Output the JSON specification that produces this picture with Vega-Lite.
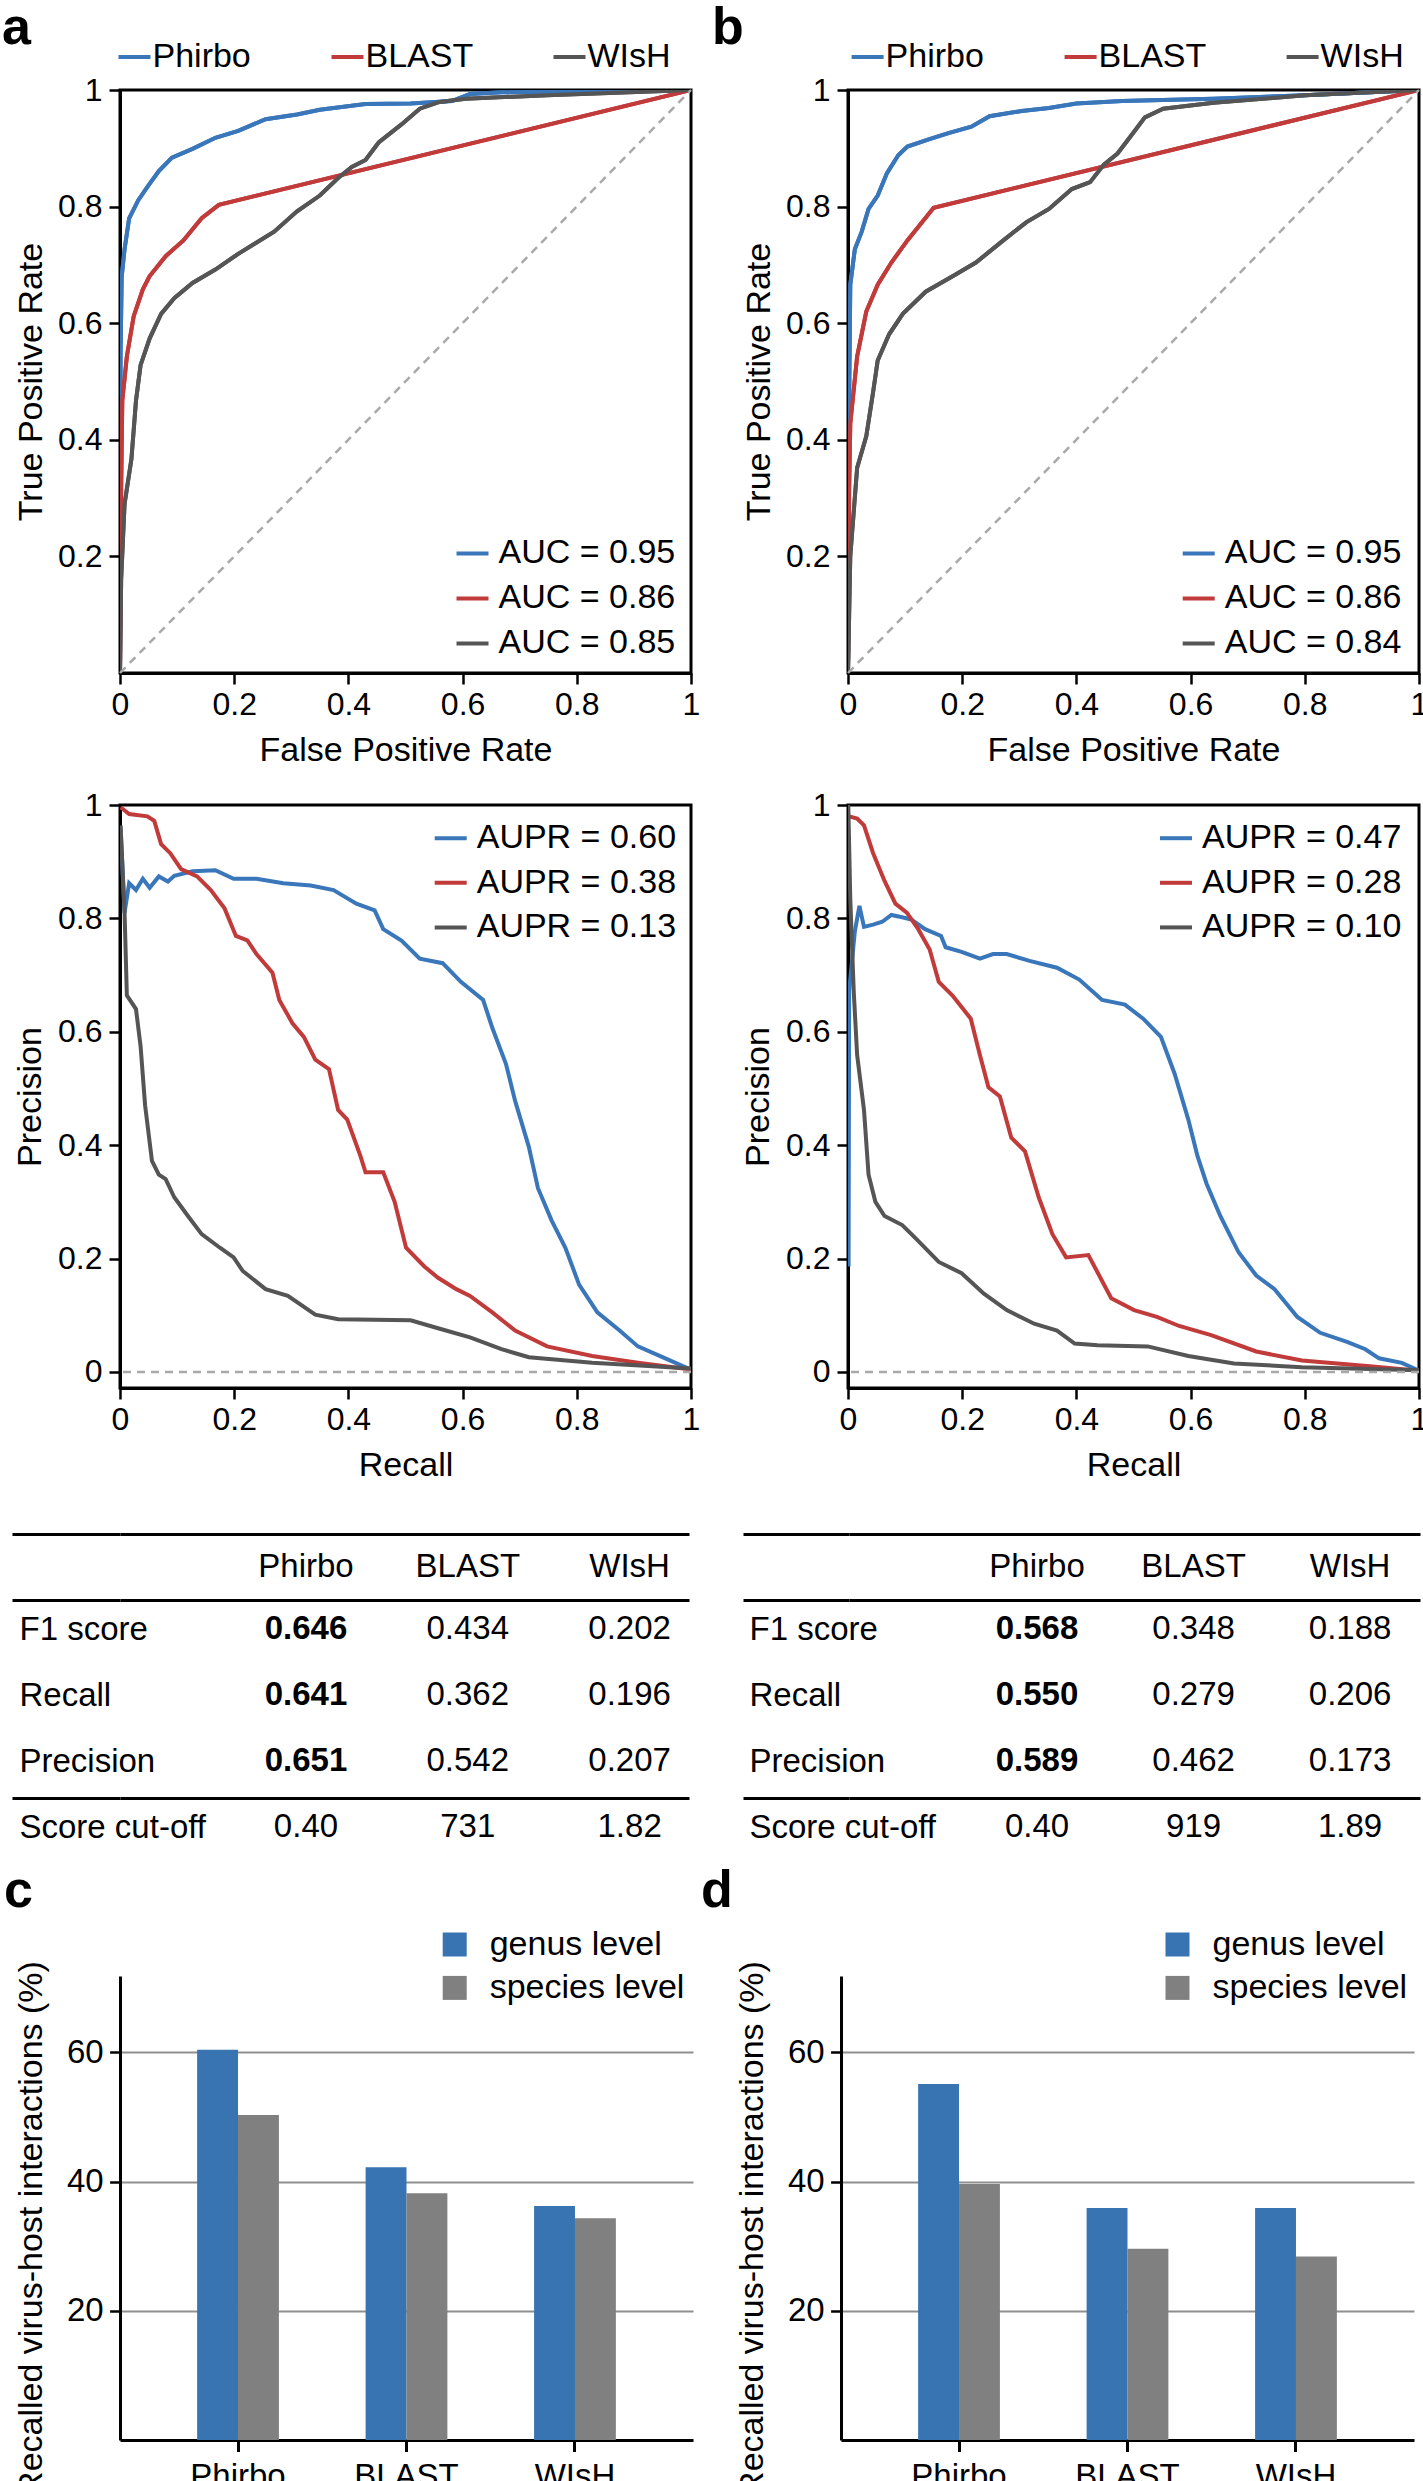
{
"$schema": "https://vega.github.io/schema/vega-lite/v6.json",
"padding": 0,
"background": "white",
"spacing": 0,
"bounds": "full",
"resolve": {"scale": {"color": "independent", "stroke": "independent"}},
"config": {
  "font": "Liberation Sans",
  "view": {"stroke": null},
  "axis": {"labelFont": "Liberation Sans", "titleFont": "Liberation Sans", "labelColor": "black", "titleColor": "black", "titleFontWeight": "normal", "domainColor": "black", "tickColor": "black", "domainWidth": 3, "tickWidth": 2.5, "grid": false, "labelFontSize": 32, "titleFontSize": 34, "labelFlush": false},
  "legend": {"labelFont": "Liberation Sans", "labelColor": "black", "labelFontSize": 34, "padding": 0, "labelLimit": 0},
  "title": {"font": "Liberation Sans", "color": "black"},
  "text": {"font": "Liberation Sans"}
},
"datasets": {
  "rocA": [
    {"m":"Phirbo","x":0,"y":0},{"m":"Phirbo","x":0.001,"y":0.55},{"m":"Phirbo","x":0.003,"y":0.68},{"m":"Phirbo","x":0.008,"y":0.727},{"m":"Phirbo","x":0.016,"y":0.78},{"m":"Phirbo","x":0.032,"y":0.811},{"m":"Phirbo","x":0.048,"y":0.834},{"m":"Phirbo","x":0.068,"y":0.861},{"m":"Phirbo","x":0.091,"y":0.884},{"m":"Phirbo","x":0.127,"y":0.899},{"m":"Phirbo","x":0.167,"y":0.918},{"m":"Phirbo","x":0.207,"y":0.93},{"m":"Phirbo","x":0.255,"y":0.95},{"m":"Phirbo","x":0.31,"y":0.958},{"m":"Phirbo","x":0.35,"y":0.966},{"m":"Phirbo","x":0.43,"y":0.976},{"m":"Phirbo","x":0.509,"y":0.977},{"m":"Phirbo","x":0.581,"y":0.981},{"m":"Phirbo","x":0.613,"y":0.993},{"m":"Phirbo","x":0.668,"y":0.996},{"m":"Phirbo","x":0.8,"y":0.998},{"m":"Phirbo","x":1,"y":1},
    {"m":"BLAST","x":0,"y":0},{"m":"BLAST","x":0.002,"y":0.314},{"m":"BLAST","x":0.004,"y":0.467},{"m":"BLAST","x":0.012,"y":0.543},{"m":"BLAST","x":0.024,"y":0.612},{"m":"BLAST","x":0.04,"y":0.658},{"m":"BLAST","x":0.052,"y":0.681},{"m":"BLAST","x":0.08,"y":0.715},{"m":"BLAST","x":0.111,"y":0.742},{"m":"BLAST","x":0.143,"y":0.78},{"m":"BLAST","x":0.173,"y":0.803},{"m":"BLAST","x":1,"y":1},
    {"m":"WIsH","x":0,"y":0},{"m":"WIsH","x":0.002,"y":0.16},{"m":"WIsH","x":0.008,"y":0.29},{"m":"WIsH","x":0.02,"y":0.367},{"m":"WIsH","x":0.028,"y":0.467},{"m":"WIsH","x":0.036,"y":0.528},{"m":"WIsH","x":0.052,"y":0.574},{"m":"WIsH","x":0.072,"y":0.616},{"m":"WIsH","x":0.095,"y":0.643},{"m":"WIsH","x":0.127,"y":0.669},{"m":"WIsH","x":0.167,"y":0.692},{"m":"WIsH","x":0.207,"y":0.719},{"m":"WIsH","x":0.27,"y":0.757},{"m":"WIsH","x":0.31,"y":0.792},{"m":"WIsH","x":0.35,"y":0.819},{"m":"WIsH","x":0.382,"y":0.849},{"m":"WIsH","x":0.406,"y":0.868},{"m":"WIsH","x":0.43,"y":0.88},{"m":"WIsH","x":0.453,"y":0.91},{"m":"WIsH","x":0.493,"y":0.941},{"m":"WIsH","x":0.525,"y":0.968},{"m":"WIsH","x":0.557,"y":0.979},{"m":"WIsH","x":0.605,"y":0.985},{"m":"WIsH","x":0.748,"y":0.991},{"m":"WIsH","x":1,"y":1}
  ],
  "rocB": [
    {"m":"Phirbo","x":0,"y":0},{"m":"Phirbo","x":0.002,"y":0.467},{"m":"Phirbo","x":0.004,"y":0.666},{"m":"Phirbo","x":0.012,"y":0.727},{"m":"Phirbo","x":0.024,"y":0.757},{"m":"Phirbo","x":0.036,"y":0.796},{"m":"Phirbo","x":0.052,"y":0.819},{"m":"Phirbo","x":0.068,"y":0.857},{"m":"Phirbo","x":0.088,"y":0.888},{"m":"Phirbo","x":0.104,"y":0.903},{"m":"Phirbo","x":0.144,"y":0.916},{"m":"Phirbo","x":0.176,"y":0.926},{"m":"Phirbo","x":0.216,"y":0.937},{"m":"Phirbo","x":0.248,"y":0.955},{"m":"Phirbo","x":0.304,"y":0.964},{"m":"Phirbo","x":0.352,"y":0.969},{"m":"Phirbo","x":0.4,"y":0.977},{"m":"Phirbo","x":0.48,"y":0.981},{"m":"Phirbo","x":0.64,"y":0.985},{"m":"Phirbo","x":0.8,"y":0.991},{"m":"Phirbo","x":1,"y":1},
    {"m":"BLAST","x":0,"y":0},{"m":"BLAST","x":0.002,"y":0.314},{"m":"BLAST","x":0.004,"y":0.428},{"m":"BLAST","x":0.016,"y":0.543},{"m":"BLAST","x":0.032,"y":0.62},{"m":"BLAST","x":0.052,"y":0.666},{"m":"BLAST","x":0.076,"y":0.704},{"m":"BLAST","x":0.104,"y":0.742},{"m":"BLAST","x":0.15,"y":0.798},{"m":"BLAST","x":1,"y":1},
    {"m":"WIsH","x":0,"y":0},{"m":"WIsH","x":0.004,"y":0.2},{"m":"WIsH","x":0.016,"y":0.352},{"m":"WIsH","x":0.032,"y":0.406},{"m":"WIsH","x":0.044,"y":0.482},{"m":"WIsH","x":0.052,"y":0.536},{"m":"WIsH","x":0.072,"y":0.581},{"m":"WIsH","x":0.096,"y":0.616},{"m":"WIsH","x":0.136,"y":0.654},{"m":"WIsH","x":0.184,"y":0.681},{"m":"WIsH","x":0.224,"y":0.704},{"m":"WIsH","x":0.272,"y":0.742},{"m":"WIsH","x":0.312,"y":0.773},{"m":"WIsH","x":0.352,"y":0.796},{"m":"WIsH","x":0.392,"y":0.83},{"m":"WIsH","x":0.424,"y":0.842},{"m":"WIsH","x":0.448,"y":0.872},{"m":"WIsH","x":0.472,"y":0.891},{"m":"WIsH","x":0.496,"y":0.922},{"m":"WIsH","x":0.52,"y":0.953},{"m":"WIsH","x":0.552,"y":0.968},{"m":"WIsH","x":0.64,"y":0.978},{"m":"WIsH","x":0.8,"y":0.991},{"m":"WIsH","x":1,"y":1}
  ],
  "prA": [
    {"m":"Phirbo","x":0.001,"y":0.96},{"m":"Phirbo","x":0.008,"y":0.81},{"m":"Phirbo","x":0.016,"y":0.862},{"m":"Phirbo","x":0.028,"y":0.85},{"m":"Phirbo","x":0.04,"y":0.87},{"m":"Phirbo","x":0.052,"y":0.854},{"m":"Phirbo","x":0.068,"y":0.874},{"m":"Phirbo","x":0.084,"y":0.865},{"m":"Phirbo","x":0.095,"y":0.875},{"m":"Phirbo","x":0.127,"y":0.883},{"m":"Phirbo","x":0.167,"y":0.885},{"m":"Phirbo","x":0.199,"y":0.87},{"m":"Phirbo","x":0.239,"y":0.87},{"m":"Phirbo","x":0.286,"y":0.862},{"m":"Phirbo","x":0.334,"y":0.858},{"m":"Phirbo","x":0.374,"y":0.85},{"m":"Phirbo","x":0.414,"y":0.826},{"m":"Phirbo","x":0.446,"y":0.814},{"m":"Phirbo","x":0.461,"y":0.781},{"m":"Phirbo","x":0.493,"y":0.761},{"m":"Phirbo","x":0.525,"y":0.729},{"m":"Phirbo","x":0.565,"y":0.721},{"m":"Phirbo","x":0.597,"y":0.688},{"m":"Phirbo","x":0.636,"y":0.656},{"m":"Phirbo","x":0.652,"y":0.607},{"m":"Phirbo","x":0.676,"y":0.543},{"m":"Phirbo","x":0.692,"y":0.478},{"m":"Phirbo","x":0.716,"y":0.397},{"m":"Phirbo","x":0.732,"y":0.324},{"m":"Phirbo","x":0.756,"y":0.267},{"m":"Phirbo","x":0.78,"y":0.219},{"m":"Phirbo","x":0.804,"y":0.154},{"m":"Phirbo","x":0.836,"y":0.105},{"m":"Phirbo","x":0.875,"y":0.073},{"m":"Phirbo","x":0.907,"y":0.045},{"m":"Phirbo","x":0.955,"y":0.024},{"m":"Phirbo","x":1,"y":0.004},
    {"m":"BLAST","x":0.001,"y":0.996},{"m":"BLAST","x":0.016,"y":0.984},{"m":"BLAST","x":0.048,"y":0.98},{"m":"BLAST","x":0.06,"y":0.972},{"m":"BLAST","x":0.072,"y":0.931},{"m":"BLAST","x":0.088,"y":0.915},{"m":"BLAST","x":0.107,"y":0.887},{"m":"BLAST","x":0.135,"y":0.874},{"m":"BLAST","x":0.159,"y":0.85},{"m":"BLAST","x":0.183,"y":0.818},{"m":"BLAST","x":0.203,"y":0.769},{"m":"BLAST","x":0.223,"y":0.761},{"m":"BLAST","x":0.239,"y":0.737},{"m":"BLAST","x":0.267,"y":0.704},{"m":"BLAST","x":0.279,"y":0.656},{"m":"BLAST","x":0.302,"y":0.615},{"m":"BLAST","x":0.322,"y":0.591},{"m":"BLAST","x":0.342,"y":0.551},{"m":"BLAST","x":0.366,"y":0.534},{"m":"BLAST","x":0.382,"y":0.462},{"m":"BLAST","x":0.398,"y":0.445},{"m":"BLAST","x":0.421,"y":0.381},{"m":"BLAST","x":0.43,"y":0.352},{"m":"BLAST","x":0.461,"y":0.352},{"m":"BLAST","x":0.481,"y":0.3},{"m":"BLAST","x":0.501,"y":0.219},{"m":"BLAST","x":0.533,"y":0.186},{"m":"BLAST","x":0.557,"y":0.166},{"m":"BLAST","x":0.589,"y":0.146},{"m":"BLAST","x":0.613,"y":0.134},{"m":"BLAST","x":0.652,"y":0.105},{"m":"BLAST","x":0.692,"y":0.073},{"m":"BLAST","x":0.748,"y":0.045},{"m":"BLAST","x":0.827,"y":0.028},{"m":"BLAST","x":0.907,"y":0.016},{"m":"BLAST","x":1,"y":0.004},
    {"m":"WIsH","x":0.001,"y":0.964},{"m":"WIsH","x":0.008,"y":0.81},{"m":"WIsH","x":0.012,"y":0.664},{"m":"WIsH","x":0.028,"y":0.64},{"m":"WIsH","x":0.036,"y":0.575},{"m":"WIsH","x":0.044,"y":0.47},{"m":"WIsH","x":0.056,"y":0.372},{"m":"WIsH","x":0.068,"y":0.348},{"m":"WIsH","x":0.08,"y":0.34},{"m":"WIsH","x":0.095,"y":0.308},{"m":"WIsH","x":0.119,"y":0.275},{"m":"WIsH","x":0.143,"y":0.243},{"m":"WIsH","x":0.175,"y":0.219},{"m":"WIsH","x":0.199,"y":0.202},{"m":"WIsH","x":0.215,"y":0.178},{"m":"WIsH","x":0.255,"y":0.146},{"m":"WIsH","x":0.294,"y":0.134},{"m":"WIsH","x":0.342,"y":0.101},{"m":"WIsH","x":0.382,"y":0.093},{"m":"WIsH","x":0.509,"y":0.091},{"m":"WIsH","x":0.557,"y":0.077},{"m":"WIsH","x":0.613,"y":0.061},{"m":"WIsH","x":0.668,"y":0.04},{"m":"WIsH","x":0.716,"y":0.026},{"m":"WIsH","x":0.827,"y":0.016},{"m":"WIsH","x":1,"y":0.006}
  ],
  "prB": [
    {"m":"Phirbo","x":0.001,"y":0.186},{"m":"Phirbo","x":0.002,"y":0.672},{"m":"Phirbo","x":0.012,"y":0.777},{"m":"Phirbo","x":0.02,"y":0.822},{"m":"Phirbo","x":0.028,"y":0.785},{"m":"Phirbo","x":0.044,"y":0.789},{"m":"Phirbo","x":0.06,"y":0.794},{"m":"Phirbo","x":0.076,"y":0.806},{"m":"Phirbo","x":0.095,"y":0.802},{"m":"Phirbo","x":0.111,"y":0.798},{"m":"Phirbo","x":0.135,"y":0.781},{"m":"Phirbo","x":0.163,"y":0.769},{"m":"Phirbo","x":0.171,"y":0.749},{"m":"Phirbo","x":0.199,"y":0.741},{"m":"Phirbo","x":0.231,"y":0.729},{"m":"Phirbo","x":0.254,"y":0.737},{"m":"Phirbo","x":0.278,"y":0.737},{"m":"Phirbo","x":0.318,"y":0.725},{"m":"Phirbo","x":0.366,"y":0.713},{"m":"Phirbo","x":0.405,"y":0.692},{"m":"Phirbo","x":0.445,"y":0.656},{"m":"Phirbo","x":0.485,"y":0.648},{"m":"Phirbo","x":0.517,"y":0.623},{"m":"Phirbo","x":0.548,"y":0.591},{"m":"Phirbo","x":0.572,"y":0.526},{"m":"Phirbo","x":0.596,"y":0.445},{"m":"Phirbo","x":0.612,"y":0.381},{"m":"Phirbo","x":0.628,"y":0.332},{"m":"Phirbo","x":0.652,"y":0.275},{"m":"Phirbo","x":0.684,"y":0.211},{"m":"Phirbo","x":0.715,"y":0.17},{"m":"Phirbo","x":0.747,"y":0.146},{"m":"Phirbo","x":0.787,"y":0.097},{"m":"Phirbo","x":0.827,"y":0.069},{"m":"Phirbo","x":0.874,"y":0.053},{"m":"Phirbo","x":0.906,"y":0.04},{"m":"Phirbo","x":0.93,"y":0.024},{"m":"Phirbo","x":0.97,"y":0.016},{"m":"Phirbo","x":1,"y":0.002},
    {"m":"BLAST","x":0.002,"y":0.98},{"m":"BLAST","x":0.016,"y":0.976},{"m":"BLAST","x":0.028,"y":0.964},{"m":"BLAST","x":0.044,"y":0.915},{"m":"BLAST","x":0.064,"y":0.866},{"m":"BLAST","x":0.083,"y":0.826},{"m":"BLAST","x":0.103,"y":0.81},{"m":"BLAST","x":0.123,"y":0.781},{"m":"BLAST","x":0.143,"y":0.745},{"m":"BLAST","x":0.159,"y":0.688},{"m":"BLAST","x":0.183,"y":0.664},{"m":"BLAST","x":0.215,"y":0.623},{"m":"BLAST","x":0.231,"y":0.559},{"m":"BLAST","x":0.246,"y":0.502},{"m":"BLAST","x":0.266,"y":0.486},{"m":"BLAST","x":0.286,"y":0.413},{"m":"BLAST","x":0.31,"y":0.389},{"m":"BLAST","x":0.334,"y":0.308},{"m":"BLAST","x":0.358,"y":0.243},{"m":"BLAST","x":0.382,"y":0.202},{"m":"BLAST","x":0.421,"y":0.206},{"m":"BLAST","x":0.461,"y":0.13},{"m":"BLAST","x":0.501,"y":0.109},{"m":"BLAST","x":0.541,"y":0.097},{"m":"BLAST","x":0.58,"y":0.081},{"m":"BLAST","x":0.636,"y":0.065},{"m":"BLAST","x":0.715,"y":0.036},{"m":"BLAST","x":0.795,"y":0.02},{"m":"BLAST","x":0.914,"y":0.01},{"m":"BLAST","x":1,"y":0.002},
    {"m":"WIsH","x":0.0005,"y":1},{"m":"WIsH","x":0.004,"y":0.834},{"m":"WIsH","x":0.01,"y":0.672},{"m":"WIsH","x":0.016,"y":0.559},{"m":"WIsH","x":0.028,"y":0.462},{"m":"WIsH","x":0.036,"y":0.348},{"m":"WIsH","x":0.048,"y":0.3},{"m":"WIsH","x":0.064,"y":0.275},{"m":"WIsH","x":0.095,"y":0.259},{"m":"WIsH","x":0.119,"y":0.235},{"m":"WIsH","x":0.159,"y":0.194},{"m":"WIsH","x":0.199,"y":0.174},{"m":"WIsH","x":0.238,"y":0.138},{"m":"WIsH","x":0.278,"y":0.109},{"m":"WIsH","x":0.326,"y":0.085},{"m":"WIsH","x":0.366,"y":0.073},{"m":"WIsH","x":0.397,"y":0.05},{"m":"WIsH","x":0.437,"y":0.047},{"m":"WIsH","x":0.525,"y":0.045},{"m":"WIsH","x":0.596,"y":0.028},{"m":"WIsH","x":0.676,"y":0.015},{"m":"WIsH","x":0.795,"y":0.008},{"m":"WIsH","x":1,"y":0.003}
  ],
  "aucA": [{"m":"Phirbo","lab":"AUC = 0.95"},{"m":"BLAST","lab":"AUC = 0.86"},{"m":"WIsH","lab":"AUC = 0.85"}],
  "aucB": [{"m":"Phirbo","lab":"AUC = 0.95"},{"m":"BLAST","lab":"AUC = 0.86"},{"m":"WIsH","lab":"AUC = 0.84"}],
  "auprA": [{"m":"Phirbo","lab":"AUPR = 0.60"},{"m":"BLAST","lab":"AUPR = 0.38"},{"m":"WIsH","lab":"AUPR = 0.13"}],
  "auprB": [{"m":"Phirbo","lab":"AUPR = 0.47"},{"m":"BLAST","lab":"AUPR = 0.28"},{"m":"WIsH","lab":"AUPR = 0.10"}],
  "tblA": [
    {"row":"header","col":"Phirbo","v":"Phirbo"},{"row":"header","col":"BLAST","v":"BLAST"},{"row":"header","col":"WIsH","v":"WIsH"},
    {"row":"F1 score","col":"Phirbo","v":"0.646"},{"row":"F1 score","col":"BLAST","v":"0.434"},{"row":"F1 score","col":"WIsH","v":"0.202"},
    {"row":"Recall","col":"Phirbo","v":"0.641"},{"row":"Recall","col":"BLAST","v":"0.362"},{"row":"Recall","col":"WIsH","v":"0.196"},
    {"row":"Precision","col":"Phirbo","v":"0.651"},{"row":"Precision","col":"BLAST","v":"0.542"},{"row":"Precision","col":"WIsH","v":"0.207"},
    {"row":"Score cut-off","col":"Phirbo","v":"0.40"},{"row":"Score cut-off","col":"BLAST","v":"731"},{"row":"Score cut-off","col":"WIsH","v":"1.82"}
  ],
  "tblB": [
    {"row":"header","col":"Phirbo","v":"Phirbo"},{"row":"header","col":"BLAST","v":"BLAST"},{"row":"header","col":"WIsH","v":"WIsH"},
    {"row":"F1 score","col":"Phirbo","v":"0.568"},{"row":"F1 score","col":"BLAST","v":"0.348"},{"row":"F1 score","col":"WIsH","v":"0.188"},
    {"row":"Recall","col":"Phirbo","v":"0.550"},{"row":"Recall","col":"BLAST","v":"0.279"},{"row":"Recall","col":"WIsH","v":"0.206"},
    {"row":"Precision","col":"Phirbo","v":"0.589"},{"row":"Precision","col":"BLAST","v":"0.462"},{"row":"Precision","col":"WIsH","v":"0.173"},
    {"row":"Score cut-off","col":"Phirbo","v":"0.40"},{"row":"Score cut-off","col":"BLAST","v":"919"},{"row":"Score cut-off","col":"WIsH","v":"1.89"}
  ],
  "barsC": [
    {"method":"Phirbo","level":"genus level","value":60.4},{"method":"Phirbo","level":"species level","value":50.3},
    {"method":"BLAST","level":"genus level","value":42.2},{"method":"BLAST","level":"species level","value":38.2},
    {"method":"WIsH","level":"genus level","value":36.2},{"method":"WIsH","level":"species level","value":34.3}
  ],
  "barsD": [
    {"method":"Phirbo","level":"genus level","value":55.1},{"method":"Phirbo","level":"species level","value":39.6},
    {"method":"BLAST","level":"genus level","value":35.9},{"method":"BLAST","level":"species level","value":29.6},
    {"method":"WIsH","level":"genus level","value":35.9},{"method":"WIsH","level":"species level","value":28.4}
  ]
},
"vconcat": [
 {
  "hconcat": [
  {
    "width": 571, "height": 583,
    "title": {"text": "a", "fontSize": 52, "fontWeight": "bold", "anchor": "start", "frame": "group", "dx": -118, "offset": -16.2},
    "view": {"stroke": "black", "strokeWidth": 3},
    "layer": [
      {"data": {"name": "rocA"}, "mark": {"type": "line", "strokeWidth": 4, "clip": true},
       "encoding": {
         "x": {"field": "x", "type": "quantitative", "scale": {"domain": [0, 1], "nice": false, "zero": false}, "axis": {"values": [0, 0.2, 0.4, 0.6, 0.8, 1], "format": ".1~f", "title": "False Positive Rate", "tickSize": 11, "labelPadding": 5, "titlePadding": 13}},
         "y": {"field": "y", "type": "quantitative", "scale": {"domain": [0, 1], "nice": false, "zero": false}, "axis": {"values": [0.2, 0.4, 0.6, 0.8, 1], "format": ".1~f", "title": "True Positive Rate", "tickSize": 11, "labelPadding": 7, "titlePadding": 9}},
         "color": {"field": "m", "type": "nominal", "scale": {"domain": ["Phirbo", "BLAST", "WIsH"], "range": ["#3a76ba", "#c13b3b", "#555555"]},
           "legend": {"title": null, "orient": "none", "direction": "horizontal", "legendX": -3.5, "legendY": -51, "symbolType": "stroke", "symbolSize": 1024, "symbolStrokeWidth": 4, "labelOffset": 0, "columnPadding": 72}}
       }},
      {"data": {"name": "rocA"}, "transform": [{"lookup": "m", "from": {"data": {"name": "aucA"}, "key": "m", "fields": ["lab"]}}],
       "mark": {"type": "line", "strokeWidth": 4, "clip": true},
       "encoding": {
         "x": {"field": "x", "type": "quantitative"},
         "y": {"field": "y", "type": "quantitative"},
         "stroke": {"field": "lab", "type": "nominal", "scale": {"domain": ["AUC = 0.95", "AUC = 0.86", "AUC = 0.85"], "range": ["#3a76ba", "#c13b3b", "#555555"]},
           "legend": {"title": null, "orient": "none", "legendX": 334.5, "legendY": 445.4, "symbolType": "stroke", "symbolSize": 1024, "symbolStrokeWidth": 4, "labelOffset": 8, "rowPadding": 10}}
       }},
      {"data": {"values": [{}]}, "mark": {"type": "rule", "strokeDash": [8, 6], "color": "#a9a9a9", "strokeWidth": 2.5},
       "encoding": {"x": {"datum": 0, "type": "quantitative"}, "y": {"datum": 0, "type": "quantitative"}, "x2": {"datum": 1}, "y2": {"datum": 1}}}
    ]
  },
  {
    "width": 571, "height": 583,
    "title": {"text": "b", "fontSize": 52, "fontWeight": "bold", "anchor": "start", "frame": "group", "dx": -136, "offset": -16.2},
    "view": {"stroke": "black", "strokeWidth": 3},
    "layer": [
      {"data": {"name": "rocB"}, "mark": {"type": "line", "strokeWidth": 4, "clip": true},
       "encoding": {
         "x": {"field": "x", "type": "quantitative", "scale": {"domain": [0, 1], "nice": false, "zero": false}, "axis": {"values": [0, 0.2, 0.4, 0.6, 0.8, 1], "format": ".1~f", "title": "False Positive Rate", "tickSize": 11, "labelPadding": 5, "titlePadding": 13}},
         "y": {"field": "y", "type": "quantitative", "scale": {"domain": [0, 1], "nice": false, "zero": false}, "axis": {"values": [0.2, 0.4, 0.6, 0.8, 1], "format": ".1~f", "title": "True Positive Rate", "tickSize": 11, "labelPadding": 7, "titlePadding": 9}},
         "color": {"field": "m", "type": "nominal", "scale": {"domain": ["Phirbo", "BLAST", "WIsH"], "range": ["#3a76ba", "#c13b3b", "#555555"]},
           "legend": {"title": null, "orient": "none", "direction": "horizontal", "legendX": 1.6, "legendY": -51, "symbolType": "stroke", "symbolSize": 1024, "symbolStrokeWidth": 4, "labelOffset": 0, "columnPadding": 72}}
       }},
      {"data": {"name": "rocB"}, "transform": [{"lookup": "m", "from": {"data": {"name": "aucB"}, "key": "m", "fields": ["lab"]}}],
       "mark": {"type": "line", "strokeWidth": 4, "clip": true},
       "encoding": {
         "x": {"field": "x", "type": "quantitative"},
         "y": {"field": "y", "type": "quantitative"},
         "stroke": {"field": "lab", "type": "nominal", "scale": {"domain": ["AUC = 0.95", "AUC = 0.86", "AUC = 0.84"], "range": ["#3a76ba", "#c13b3b", "#555555"]},
           "legend": {"title": null, "orient": "none", "legendX": 332.7, "legendY": 445.4, "symbolType": "stroke", "symbolSize": 1024, "symbolStrokeWidth": 4, "labelOffset": 8, "rowPadding": 10}}
       }},
      {"data": {"values": [{}]}, "mark": {"type": "rule", "strokeDash": [8, 6], "color": "#a9a9a9", "strokeWidth": 2.5},
       "encoding": {"x": {"datum": 0, "type": "quantitative"}, "y": {"datum": 0, "type": "quantitative"}, "x2": {"datum": 1}, "y2": {"datum": 1}}}
    ]
  }
  ],
  "spacing": 8,
  "bounds": "full",
  "resolve": {"scale": {"color": "independent", "stroke": "independent"}}
 },
 {
  "hconcat": [
  {
    "width": 571, "height": 583,
    "title": {"text": " ", "fontSize": 10, "anchor": "start", "frame": "group", "dx": -118, "offset": 7.7},
    "view": {"stroke": "black", "strokeWidth": 3},
    "layer": [
      {"data": {"name": "prA"}, "transform": [{"lookup": "m", "from": {"data": {"name": "auprA"}, "key": "m", "fields": ["lab"]}}],
       "mark": {"type": "line", "strokeWidth": 4, "clip": true},
       "encoding": {
         "x": {"field": "x", "type": "quantitative", "scale": {"domain": [0, 1], "nice": false, "zero": false}, "axis": {"values": [0, 0.2, 0.4, 0.6, 0.8, 1], "format": ".1~f", "title": "Recall", "tickSize": 11, "labelPadding": 5, "titlePadding": 13}},
         "y": {"field": "y", "type": "quantitative", "scale": {"domain": [-0.0284, 1], "nice": false, "zero": false}, "axis": {"values": [0, 0.2, 0.4, 0.6, 0.8, 1], "format": ".1~f", "title": "Precision", "tickSize": 11, "labelPadding": 7, "titlePadding": 10}},
         "color": {"field": "lab", "type": "nominal", "scale": {"domain": ["AUPR = 0.60", "AUPR = 0.38", "AUPR = 0.13"], "range": ["#3a76ba", "#c13b3b", "#555555"]},
           "legend": {"title": null, "orient": "none", "legendX": 312.7, "legendY": 15.2, "symbolType": "stroke", "symbolSize": 1024, "symbolStrokeWidth": 4, "labelOffset": 8, "rowPadding": 9.6}}
       }},
      {"data": {"values": [{}]}, "mark": {"type": "rule", "strokeDash": [8, 6], "color": "#a9a9a9", "strokeWidth": 2.5},
       "encoding": {"y": {"datum": 0, "type": "quantitative"}}}
    ]
  },
  {
    "width": 571, "height": 583,
    "title": {"text": " ", "fontSize": 10, "anchor": "start", "frame": "group", "dx": -136, "offset": 7.7},
    "view": {"stroke": "black", "strokeWidth": 3},
    "layer": [
      {"data": {"name": "prB"}, "transform": [{"lookup": "m", "from": {"data": {"name": "auprB"}, "key": "m", "fields": ["lab"]}}],
       "mark": {"type": "line", "strokeWidth": 4, "clip": true},
       "encoding": {
         "x": {"field": "x", "type": "quantitative", "scale": {"domain": [0, 1], "nice": false, "zero": false}, "axis": {"values": [0, 0.2, 0.4, 0.6, 0.8, 1], "format": ".1~f", "title": "Recall", "tickSize": 11, "labelPadding": 5, "titlePadding": 13}},
         "y": {"field": "y", "type": "quantitative", "scale": {"domain": [-0.0284, 1], "nice": false, "zero": false}, "axis": {"values": [0, 0.2, 0.4, 0.6, 0.8, 1], "format": ".1~f", "title": "Precision", "tickSize": 11, "labelPadding": 7, "titlePadding": 10}},
         "color": {"field": "lab", "type": "nominal", "scale": {"domain": ["AUPR = 0.47", "AUPR = 0.28", "AUPR = 0.10"], "range": ["#3a76ba", "#c13b3b", "#555555"]},
           "legend": {"title": null, "orient": "none", "legendX": 310, "legendY": 15.2, "symbolType": "stroke", "symbolSize": 1024, "symbolStrokeWidth": 4, "labelOffset": 8, "rowPadding": 9.6}}
       }},
      {"data": {"values": [{}]}, "mark": {"type": "rule", "strokeDash": [8, 6], "color": "#a9a9a9", "strokeWidth": 2.5},
       "encoding": {"y": {"datum": 0, "type": "quantitative"}}}
    ]
  }
  ],
  "spacing": 8,
  "bounds": "full",
  "resolve": {"scale": {"color": "independent", "stroke": "independent"}}
 },
 {
  "hconcat": [
  {
    "width": 569, "height": 330,
    "title": {"text": " ", "fontSize": 10, "anchor": "start", "frame": "group", "offset": 38},
    "resolve": {"scale": {"y": "independent"}, "axis": {"y": "independent"}},
    "layer": [
      {"data": {"name": "tblA"}, "transform": [{"filter": "datum.row === 'header'"}],
       "mark": {"type": "text", "fontSize": 33, "color": "black"},
       "encoding": {
         "x": {"field": "col", "type": "nominal", "scale": {"type": "point", "domain": ["Phirbo", "BLAST", "WIsH"], "padding": 0.758, "align": 0.758}, "axis": null},
         "y": {"field": "row", "type": "nominal", "scale": {"type": "band", "domain": ["header", "F1 score", "Recall", "Precision", "Score cut-off"], "paddingInner": 0, "paddingOuter": 0},
           "axis": {"orient": "left", "title": null, "domain": false, "labels": false, "bandPosition": 0, "tickExtra": false, "ticks": true, "tickSize": 108, "tickWidth": 3, "tickColor": "black",
             "tickOpacity": {"condition": {"test": "datum.value === 'Recall' || datum.value === 'Precision'", "value": 0}, "value": 1},
             "grid": true, "gridColor": "black", "gridWidth": 3,
             "gridOpacity": {"condition": {"test": "datum.value === 'Recall' || datum.value === 'Precision'", "value": 0}, "value": 1}}},
         "text": {"field": "v"}
       }},
      {"data": {"name": "tblA"}, "transform": [{"filter": "datum.row !== 'header' && !(datum.col === 'Phirbo' && datum.row !== 'Score cut-off')"}],
       "mark": {"type": "text", "fontSize": 33, "color": "black"},
       "encoding": {
         "x": {"field": "col", "type": "nominal"},
         "y": {"field": "row", "type": "nominal", "scale": {"type": "point", "domain": ["F1 score", "Recall", "Precision", "Score cut-off"], "padding": 1.205, "align": 0.723},
           "axis": {"orient": "left", "title": null, "domain": false, "ticks": false, "tickSize": 0, "grid": false, "labelAlign": "left", "labelPadding": 101, "labelFontSize": 33, "labelLimit": 0}},
         "text": {"field": "v"}
       }},
      {"data": {"name": "tblA"}, "transform": [{"filter": "datum.col === 'Phirbo' && datum.row !== 'header' && datum.row !== 'Score cut-off'"}],
       "mark": {"type": "text", "fontSize": 33, "color": "black", "fontWeight": "bold"},
       "encoding": {
         "x": {"field": "col", "type": "nominal"},
         "y": {"field": "row", "type": "nominal", "scale": {"type": "point", "domain": ["F1 score", "Recall", "Precision", "Score cut-off"], "padding": 1.205, "align": 0.723}, "axis": null},
         "text": {"field": "v"}
       }}
    ]
  },
  {
    "width": 571, "height": 330,
    "title": {"text": " ", "fontSize": 10, "anchor": "start", "frame": "group", "offset": 38},
    "resolve": {"scale": {"y": "independent"}, "axis": {"y": "independent"}},
    "layer": [
      {"data": {"name": "tblB"}, "transform": [{"filter": "datum.row === 'header'"}],
       "mark": {"type": "text", "fontSize": 33, "color": "black"},
       "encoding": {
         "x": {"field": "col", "type": "nominal", "scale": {"type": "point", "domain": ["Phirbo", "BLAST", "WIsH"], "padding": 0.824, "align": 0.729}, "axis": null},
         "y": {"field": "row", "type": "nominal", "scale": {"type": "band", "domain": ["header", "F1 score", "Recall", "Precision", "Score cut-off"], "paddingInner": 0, "paddingOuter": 0},
           "axis": {"orient": "left", "title": null, "domain": false, "labels": false, "bandPosition": 0, "tickExtra": false, "ticks": true, "tickSize": 106, "tickWidth": 3, "tickColor": "black",
             "tickOpacity": {"condition": {"test": "datum.value === 'Recall' || datum.value === 'Precision'", "value": 0}, "value": 1},
             "grid": true, "gridColor": "black", "gridWidth": 3,
             "gridOpacity": {"condition": {"test": "datum.value === 'Recall' || datum.value === 'Precision'", "value": 0}, "value": 1}}},
         "text": {"field": "v"}
       }},
      {"data": {"name": "tblB"}, "transform": [{"filter": "datum.row !== 'header' && !(datum.col === 'Phirbo' && datum.row !== 'Score cut-off')"}],
       "mark": {"type": "text", "fontSize": 33, "color": "black"},
       "encoding": {
         "x": {"field": "col", "type": "nominal"},
         "y": {"field": "row", "type": "nominal", "scale": {"type": "point", "domain": ["F1 score", "Recall", "Precision", "Score cut-off"], "padding": 1.205, "align": 0.723},
           "axis": {"orient": "left", "title": null, "domain": false, "ticks": false, "tickSize": 0, "grid": false, "labelAlign": "left", "labelPadding": 100, "labelFontSize": 33, "labelLimit": 0}},
         "text": {"field": "v"}
       }},
      {"data": {"name": "tblB"}, "transform": [{"filter": "datum.col === 'Phirbo' && datum.row !== 'header' && datum.row !== 'Score cut-off'"}],
       "mark": {"type": "text", "fontSize": 33, "color": "black", "fontWeight": "bold"},
       "encoding": {
         "x": {"field": "col", "type": "nominal"},
         "y": {"field": "row", "type": "nominal", "scale": {"type": "point", "domain": ["F1 score", "Recall", "Precision", "Score cut-off"], "padding": 1.205, "align": 0.723}, "axis": null},
         "text": {"field": "v"}
       }}
    ]
  }
  ],
  "spacing": 52,
  "bounds": "full"
 },
 {
  "hconcat": [
  {
    "width": 573, "height": 464,
    "title": {"text": "c", "fontSize": 52, "fontWeight": "bold", "anchor": "start", "frame": "group", "dx": -116, "offset": 9.9},
    "data": {"name": "barsC"},
    "mark": {"type": "bar"},
    "encoding": {
      "x": {"field": "method", "type": "nominal", "sort": ["Phirbo", "BLAST", "WIsH"], "scale": {"paddingInner": 0.5146, "paddingOuter": 0.4578}, "axis": {"title": null, "labelAngle": 0, "labelFontSize": 33, "tickSize": 11.5, "tickWidth": 3, "labelPadding": 8.6}},
      "xOffset": {"field": "level", "type": "nominal", "sort": ["genus level", "species level"]},
      "y": {"field": "value", "type": "quantitative", "scale": {"domain": [0, 71.8], "nice": false}, "axis": {"values": [20, 40, 60], "grid": true, "gridColor": "#8f8f8f", "gridWidth": 2, "tickSize": 10.4, "labelPadding": 6.4, "labelFontSize": 33, "title": "Recalled virus-host interactions (%)", "titlePadding": 18, "titleY": 252}},
      "color": {"field": "level", "type": "nominal", "scale": {"domain": ["genus level", "species level"], "range": ["#3874b2", "#808080"]},
        "legend": {"title": null, "orient": "none", "legendX": 317.7, "legendY": -48.5, "symbolType": "square", "symbolSize": 576, "symbolStrokeWidth": 0, "labelOffset": 18, "rowPadding": 9.4}}
    }
  },
  {
    "width": 573, "height": 464,
    "title": {"text": "d", "fontSize": 52, "fontWeight": "bold", "anchor": "start", "frame": "group", "dx": -140, "offset": 9.9},
    "data": {"name": "barsD"},
    "mark": {"type": "bar"},
    "encoding": {
      "x": {"field": "method", "type": "nominal", "sort": ["Phirbo", "BLAST", "WIsH"], "scale": {"paddingInner": 0.5146, "paddingOuter": 0.4578}, "axis": {"title": null, "labelAngle": 0, "labelFontSize": 33, "tickSize": 11.5, "tickWidth": 3, "labelPadding": 8.6}},
      "xOffset": {"field": "level", "type": "nominal", "sort": ["genus level", "species level"]},
      "y": {"field": "value", "type": "quantitative", "scale": {"domain": [0, 71.8], "nice": false}, "axis": {"values": [20, 40, 60], "grid": true, "gridColor": "#8f8f8f", "gridWidth": 2, "tickSize": 10.4, "labelPadding": 6.4, "labelFontSize": 33, "title": "Recalled virus-host interactions (%)", "titlePadding": 18, "titleY": 252}},
      "color": {"field": "level", "type": "nominal", "scale": {"domain": ["genus level", "species level"], "range": ["#3874b2", "#808080"]},
        "legend": {"title": null, "orient": "none", "legendX": 319.5, "legendY": -48.5, "symbolType": "square", "symbolSize": 576, "symbolStrokeWidth": 0, "labelOffset": 18, "rowPadding": 9.4}}
    }
  }
  ],
  "spacing": 8,
  "bounds": "full",
  "resolve": {"scale": {"color": "independent"}}
 }
]
}
